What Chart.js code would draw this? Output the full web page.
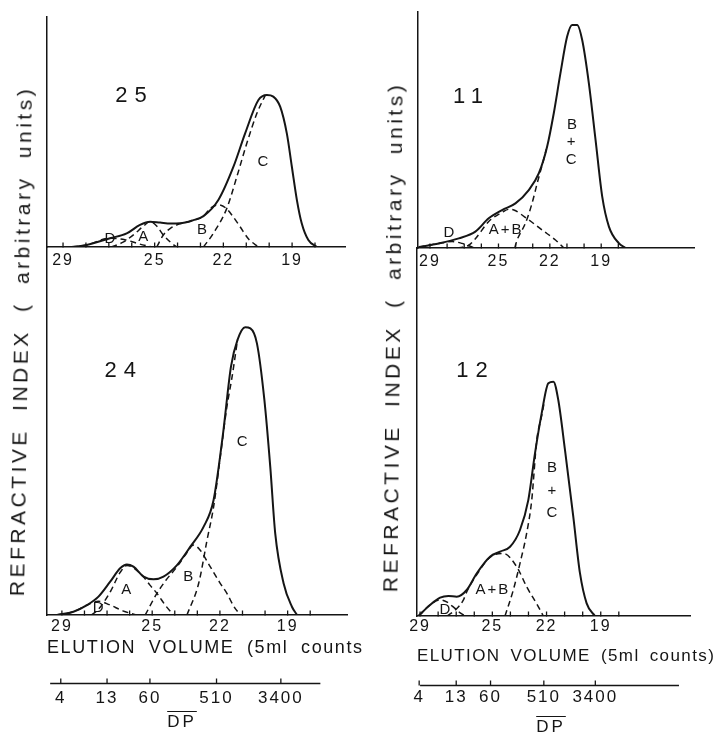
<!DOCTYPE html>
<html>
<head>
<meta charset="utf-8">
<script src="https://cdn.jsdelivr.net/npm/chart.js@4.4.0/dist/chart.umd.min.js"></script>
<style>
  body { margin: 0; background: #fff; }
  #fig { position: relative; width: 724px; height: 733px; overflow: hidden;
         font-family: "Liberation Sans", Arial, sans-serif; color: #151515; }
  canvas { position: absolute; }
  .ytitle { position: absolute; white-space: nowrap; font-size: 21px; line-height: 24px;
            letter-spacing: 3.5px; word-spacing: 8px; }
  .xtitle { position: absolute; white-space: nowrap; overflow: hidden;
            line-height: 20px; height: 20px; }
  .dp { position: absolute; font-size: 17px; line-height: 20px; letter-spacing: 3px;
        text-decoration: overline; transform: translate(-50%, -50%); }
</style>
</head>
<body>
<div id="fig">
  <canvas id="c25" width="362" height="280" style="left:0;top:0"></canvas>
  <canvas id="c11" width="362" height="280" style="left:362px;top:0"></canvas>
  <canvas id="c24" width="362" height="496" style="left:0;top:237px"></canvas>
  <canvas id="c12" width="362" height="496" style="left:362px;top:237px"></canvas>

  <div class="ytitle" style="left:21px;top:341px;transform:translate(-50%,-50%) rotate(-89.1deg)">REFRACTIVE INDEX ( arbitrary units)</div>
  <div class="ytitle" style="left:393px;top:337px;transform:translate(-50%,-50%) rotate(-89.4deg)">REFRACTIVE INDEX ( arbitrary units)</div>

  <div class="xtitle" style="left:47px;top:637px;width:315px;font-size:18px;letter-spacing:1.6px;word-spacing:6px">ELUTION VOLUME (5ml counts)</div>
  <div class="xtitle" style="left:417px;top:646px;width:307px;font-size:17px;letter-spacing:1.4px;word-spacing:4px">ELUTION VOLUME (5ml counts)</div>

  <div class="dp" style="left:182px;top:722px">DP</div>
  <div class="dp" style="left:551px;top:727px">DP</div>
</div>

<script>
const ink = '#151515';
const font = '"Liberation Sans", Arial, sans-serif';

// elution volume axis (5 ml counts), reversed
const elutionTicks = [18, 19, 20, 21, 22, 23, 24, 25, 26, 27, 28, 29];
const elutionLabels = [29, 25, 22, 19];

// DP calibration shown under the lower panels
const dpLabels = ['4', '13', '60', '510', '3400'];
const dpElution = [29.05, 27.0, 25.1, 22.15, 19.3];

// fraction 25
const f25TotalX = [28.62, 27.97, 26.95, 26.22, 25.64, 25.2, 24.76, 24.3, 23.89, 23.31, 22.87, 22.22, 21.56, 21.05, 20.47, 20.10, 19.82, 19.52, 19.23, 19.01, 18.79, 18.58, 18.29, 17.92];
const f25TotalY = [0, 0.9, 3.8, 5.9, 9.6, 11.0, 10.6, 10.2, 10.3, 11.7, 13.4, 20.4, 34.9, 49.4, 63.9, 66.1, 65.4, 61, 49.4, 34.9, 20.4, 10.3, 3, 0];
const f25DX = [28.62, 27.97, 26.95, 26.3, 25.7, 25.1];
const f25DY = [0, 0.9, 3.8, 3.2, 1.4, 0];
const f25AX = [26.9, 26.4, 25.9, 25.5, 25.2, 24.9, 24.62, 24.3, 24.03];
const f25AY = [0, 2, 5.5, 9, 11, 9, 5.2, 2, 0];
const f25BX = [24.91, 24.62, 24.3, 23.89, 23.31, 22.87, 22.55, 22.22, 21.9, 21.6, 21.27, 20.9, 20.47];
const f25BY = [0, 5.2, 8.2, 10.1, 11.5, 13.4, 17, 18.3, 17, 13.5, 8.8, 3.5, 0];
const f25CX = [22.87, 22.44, 21.85, 21.41, 20.98, 20.54, 20.18];
const f25CY = [0, 5.9, 16.8, 30.6, 45, 58, 65.8];

// fraction 11
const f11TotalX = [29.66, 28.49, 27.32, 26.35, 25.57, 24.79, 24.01, 23.23, 22.64, 22.16, 21.77, 21.38, 20.99, 20.70, 20.40, 20.11, 19.72, 19.33, 18.94, 18.55, 17.96, 17.58];
const f11TotalY = [0.4, 2, 4.2, 7.1, 12.9, 16.5, 19.4, 25.2, 32.5, 44, 58.6, 76, 91.9, 97, 97, 90.4, 71.6, 47, 22.3, 9.3, 2, 0];
const f11DX = [29.66, 28.49, 27.7, 27.13, 26.74, 26.4];
const f11DY = [0.4, 2, 2.8, 2, 1, 0];
const f11ABX = [27.4, 26.74, 26.35, 25.57, 24.79, 24.4, 24.1, 23.23, 22.45, 21.67, 21.18];
const f11ABY = [0, 1.2, 4, 11.5, 15.5, 16.8, 16.5, 12.2, 7.8, 3.5, 0];
const f11BCX = [24.05, 23.91, 23.43, 23.04, 22.74, 22.45, 22.2];
const f11BCY = [0, 3.5, 10.7, 19.4, 28.1, 36, 43];

// fraction 24
const f24TotalX = [29.22, 28.49, 27.89, 27.38, 26.86, 26.42, 26.12, 25.83, 25.38, 24.94, 24.50, 23.90, 23.31, 22.72, 22.28, 21.86, 21.51, 21.22, 20.88, 20.65, 20.36, 20.03, 19.77, 19.55, 19.18, 18.81, 18.58];
const f24TotalY = [0, 1.4, 4.3, 8, 14.5, 20.3, 22, 21, 16.7, 15.5, 16.7, 21.7, 29.7, 38.4, 50, 79, 108, 119.6, 125.1, 124.6, 118.1, 93.5, 64.5, 35.5, 13.8, 3.6, 0];
const f24DX = [29.22, 28.49, 27.89, 27.38, 26.9, 26.3, 25.7];
const f24DY = [0, 1.4, 4.3, 6, 4.5, 1.8, 0];
const f24AX = [27.7, 27.38, 26.86, 26.42, 26.12, 25.83, 25.38, 25.1, 24.79, 24.4, 24.05];
const f24AY = [0, 2.5, 10, 18.5, 21.5, 20.5, 16.5, 13, 9.4, 4, 0];
const f24BX = [25.31, 24.79, 24.4, 23.9, 23.5, 23.17, 22.9, 22.43, 22.0, 21.69, 21.4, 21.10];
const f24BY = [0, 9.4, 15, 21, 26.5, 30.4, 28.5, 21, 14, 9.4, 4, 0];
const f24CX = [23.46, 22.94, 22.57, 22.28, 21.98, 21.69, 21.46, 21.22];
const f24CY = [0, 13.8, 32.6, 47, 69, 90.6, 103.6, 119.6];

// fraction 12
const f12TotalX = [29.09, 28.45, 27.89, 27.43, 26.97, 26.42, 25.86, 25.13, 24.57, 24.02, 23.47, 23.01, 22.64, 22.27, 21.90, 21.62, 21.35, 20.98, 20.52, 20.15, 19.78, 19.32];
const f12TotalY = [0, 4.8, 8, 8.7, 8.4, 11.3, 18.6, 25.8, 28, 30.1, 37.4, 50.4, 70.7, 88.1, 101.2, 101.9, 93.9, 72.2, 43.2, 18.6, 5.5, 0];
const f12DX = [29.09, 28.45, 27.89, 27.5, 27.1, 26.8, 26.5];
const f12DY = [0, 4.8, 7, 6, 3.5, 1.5, 0];
const f12ABX = [27.5, 27.0, 26.6, 26.42, 25.86, 25.13, 24.39, 23.65, 23.1, 22.45, 22.18];
const f12ABY = [0, 3, 7, 10.5, 18, 25.5, 27.2, 21.4, 12.7, 4, 0];
const f12BCX = [24.3, 23.84, 23.47, 23.1, 22.82, 22.54, 22.27, 22.15];
const f12BCY = [0, 11.3, 22.9, 36, 50.4, 76.5, 87, 92];

function pts(xs, ys) {
  return xs.map((x, i) => ({ x: x, y: ys[i] }));
}

function drawText(ctx, text, px, py, size, spacing) {
  ctx.font = size + 'px ' + font;
  ctx.letterSpacing = spacing + 'px';
  const w = ctx.measureText(text).width - spacing;
  ctx.textAlign = 'left';
  ctx.textBaseline = 'middle';
  ctx.fillText(text, px - w / 2, py);
}

// upward tick marks, DP axis line and the curve letters
function marks(cfg) {
  return {
    id: 'marks',
    beforeDraw(chart) {
      chart.ctx.letterSpacing = '2px';
    },
    afterDraw(chart) {
      const ctx = chart.ctx;
      ctx.save();
      ctx.strokeStyle = ink;
      ctx.fillStyle = ink;
      ctx.lineWidth = 1.3;
      ['x', 'dp'].forEach(id => {
        const s = chart.scales[id];
        if (!s) return;
        const y0 = Math.round(s.top) + 0.5;
        if (id === 'dp') {
          ctx.beginPath();
          ctx.moveTo(s.getPixelForValue(cfg.dpFrom), y0);
          ctx.lineTo(s.getPixelForValue(cfg.dpTo), y0);
          ctx.stroke();
        }
        s.ticks.forEach(t => {
          const px = s.getPixelForValue(t.value);
          ctx.beginPath();
          ctx.moveTo(px, y0);
          ctx.lineTo(px, y0 - 5);
          ctx.stroke();
        });
      });
      const sx = chart.scales.x, sy = chart.scales.y;
      cfg.notes.forEach(n => {
        drawText(ctx, n[0], sx.getPixelForValue(n[1]), sy.getPixelForValue(n[2]), n[3] || 15, n[4] || 2);
      });
      ctx.restore();
    }
  };
}

function panel(id, cfg) {
  const scales = {
    x: {
      type: 'linear', reverse: true, min: cfg.xMin, max: cfg.xMax,
      afterBuildTicks: s => { s.ticks = elutionTicks.map(v => ({ value: v })); },
      afterFit: s => { s.height = cfg.xHeight; },
      grid: { display: false, drawTicks: false },
      border: { color: ink, width: 1.5 },
      ticks: {
        autoSkip: false, maxRotation: 0, padding: cfg.tickPad, color: ink,
        font: { family: font, size: 16 },
        callback: v => elutionLabels.includes(v) ? String(v) : ''
      }
    },
    y: {
      min: 0, max: cfg.yMax,
      afterFit: s => { s.width = 0; },
      grid: { display: false, drawTicks: false },
      border: { color: ink, width: 1.5 },
      ticks: { display: false }
    }
  };
  if (cfg.dpHeight) {
    scales.dp = {
      axis: 'x', type: 'linear', position: 'bottom', weight: 1,
      reverse: true, min: cfg.xMin, max: cfg.xMax,
      afterBuildTicks: s => { s.ticks = dpElution.map(v => ({ value: v })); },
      afterFit: s => { s.height = cfg.dpHeight; },
      grid: { display: false, drawTicks: false },
      border: { display: false },
      ticks: {
        autoSkip: false, maxRotation: 0, padding: cfg.dpPad, color: ink,
        font: { family: font, size: 17 },
        callback: (v, i) => dpLabels[i]
      }
    };
  }
  return new Chart(document.getElementById(id), {
    type: 'line',
    data: {
      datasets: cfg.series.map(s => ({
        data: pts(s[0], s[1]),
        borderColor: ink,
        borderWidth: s[2] ? 1.5 : 2,
        borderDash: s[2] ? [6, 4] : [],
        pointRadius: 0,
        cubicInterpolationMode: 'monotone',
        fill: false
      }))
    },
    options: {
      responsive: false,
      animation: false,
      events: [],
      layout: { padding: cfg.pad },
      plugins: { legend: { display: false }, tooltip: { enabled: false } },
      scales: scales
    },
    plugins: [marks(cfg)]
  });
}

panel('c25', {
  pad: { left: 47, top: 17, right: 17, bottom: 0 },
  xMin: 16.69, xMax: 29.70, yMax: 100, xHeight: 33, tickPad: 4,
  series: [[f25TotalX, f25TotalY], [f25DX, f25DY, 1], [f25AX, f25AY, 1], [f25BX, f25BY, 1], [f25CX, f25CY, 1]],
  notes: [['25', 26.03, 65.7, 22, 7], ['D', 26.95, 3.5], ['A', 25.5, 4.3], ['B', 22.93, 7.4], ['C', 20.27, 37]]
});

panel('c11', {
  pad: { left: 56, top: 12, right: 30, bottom: 0 },
  xMin: 13.58, xMax: 29.70, yMax: 102.6, xHeight: 32, tickPad: 4,
  series: [[f11TotalX, f11TotalY], [f11DX, f11DY, 1], [f11ABX, f11ABY, 1], [f11BCX, f11BCY, 1]],
  notes: [['11', 26.78, 65.7, 22, 7], ['D', 27.89, 6.5], ['A+B', 24.61, 7.8, 15, 2],
          ['B', 20.70, 53.5], ['+', 20.75, 46], ['C', 20.75, 38.3]]
});

panel('c24', {
  pad: { left: 47, top: 10, right: 15, bottom: 0 },
  xMin: 16.37, xMax: 29.66, yMax: 160, xHeight: 68, tickPad: 2,
  dpHeight: 50, dpPad: 5, dpFrom: 29.52, dpTo: 17.55,
  series: [[f24TotalX, f24TotalY], [f24DX, f24DY, 1], [f24AX, f24AY, 1], [f24BX, f24BY, 1], [f24CX, f24CY, 1]],
  notes: [['24', 26.42, 106, 22, 7], ['D', 27.39, 3], ['A', 26.15, 10.9], ['B', 23.4, 16.5], ['C', 21.01, 75.2]]
});

panel('c12', {
  pad: { left: 55, top: 11, right: 34, bottom: 0 },
  xMin: 14.06, xMax: 29.17, yMax: 160, xHeight: 69, tickPad: 1,
  dpHeight: 48, dpPad: 2.5, dpFrom: 29.0, dpTo: 14.67,
  series: [[f12TotalX, f12TotalY], [f12DX, f12DY, 1], [f12ABX, f12ABY, 1], [f12BCX, f12BCY, 1]],
  notes: [['12', 26.12, 106.5, 22, 7], ['D', 27.62, 2.6], ['A+B', 25.02, 11.3, 15, 2],
          ['B', 21.70, 64.3], ['+', 21.70, 54.3], ['C', 21.70, 44.8]]
});
</script>
</body>
</html>
